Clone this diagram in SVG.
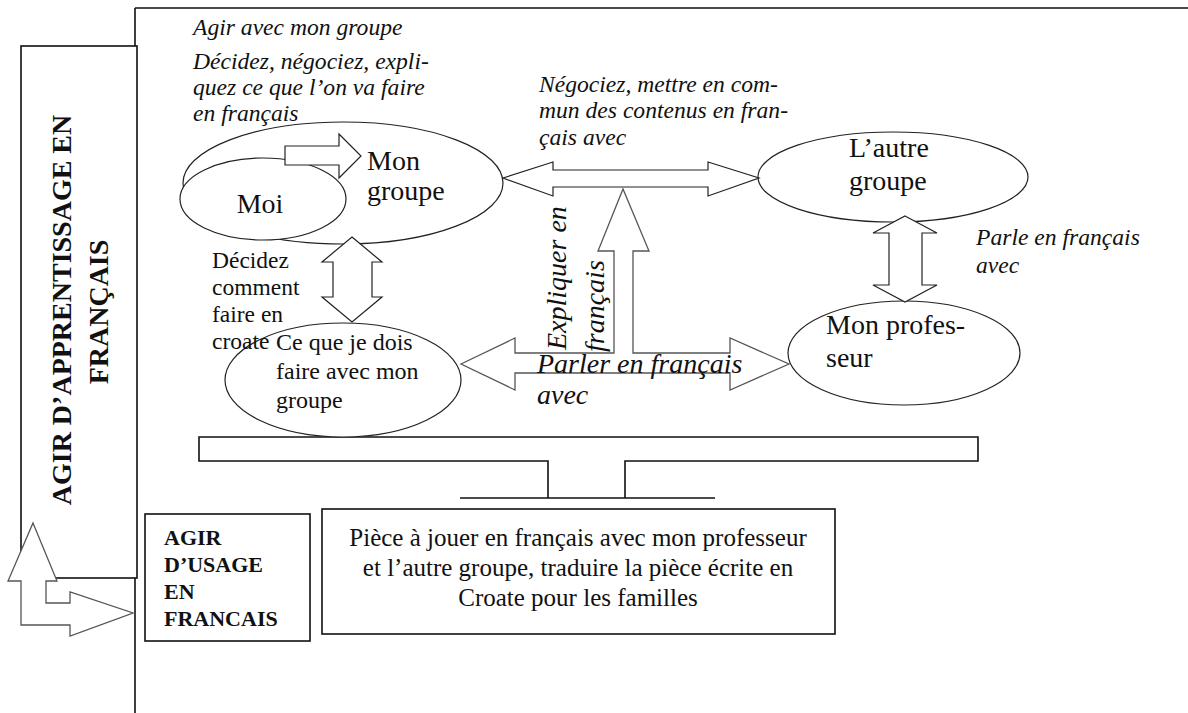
<svg xmlns="http://www.w3.org/2000/svg" width="1188" height="713" viewBox="0 0 1188 713">
<style>
.box{fill:#fff;stroke:#111;stroke-width:1.6}
.ell{fill:#fff;stroke:#222;stroke-width:1.2}
.arr{fill:#fff;stroke:#222;stroke-width:1.2}
.arrg{fill:#fff;stroke:#555;stroke-width:1.3}
.ln{fill:none;stroke:#111;stroke-width:1.6}
.t{font-family:"Liberation Serif","Times New Roman",serif;fill:#111}
.node{font-size:28px}
.reg{font-size:23.5px}
.it{font-style:italic;font-size:23.6px}
.itb{font-style:italic;font-size:28px}
.bold{font-weight:bold}
</style>
<rect width="1188" height="713" fill="#fff"/>
<g id="frame">
<path class="ln" d="M135,8 H1188 M135,8 V713"/>
</g>
<g id="apprentissage">
<rect class="box" x="21" y="46" width="116" height="532"/>
<text class="t bold" font-size="28" text-anchor="middle" transform="translate(71,310) rotate(-90)">AGIR D’APPRENTISSAGE EN</text>
<text class="t bold" font-size="28" text-anchor="middle" transform="translate(108,312) rotate(-90)">FRANÇAIS</text>
</g>
<g id="usage">
<rect class="box" x="145" y="514" width="165" height="127"/>
<text class="t bold" font-size="22"><tspan x="164" y="545">AGIR</tspan><tspan x="164" y="572">D’USAGE</tspan><tspan x="164" y="599">EN</tspan><tspan x="164" y="626">FRANCAIS</tspan></text>
</g>
<g id="piece">
<rect class="box" x="322" y="509" width="513" height="125"/>
<text class="t" font-size="25" text-anchor="middle"><tspan x="578" y="546">Pièce à jouer en français avec mon professeur</tspan><tspan x="578" y="576">et l’autre groupe, traduire la pièce écrite en</tspan><tspan x="578" y="606">Croate pour les familles</tspan></text>
</g>
<g id="bracket">
<polygon points="199,437 978,437 978,461 625,461 625,498 548,498 548,461 199,461" fill="#fff"/>
<path class="ln" d="M548,498 V461 H199 V437 H978 V461 H625 V498 M460,498 H715"/>
</g>
<g id="mon-groupe">
<ellipse class="ell" cx="343" cy="183" rx="160" ry="61"/>
<text class="t node"><tspan x="367" y="170">Mon</tspan><tspan x="367" y="200">groupe</tspan></text>
</g>
<g id="moi">
<ellipse class="ell" cx="263" cy="199" rx="83" ry="41"/>
<text class="t node" x="260" y="213" text-anchor="middle">Moi</text>
</g>
<g id="autre-groupe">
<ellipse class="ell" cx="893" cy="177" rx="135" ry="45"/>
<text class="t node"><tspan x="849" y="157">L’autre</tspan><tspan x="849" y="190">groupe</tspan></text>
</g>
<g id="professeur">
<ellipse class="ell" cx="904" cy="353" rx="116" ry="52"/>
<text class="t node"><tspan x="826" y="334">Mon profes-</tspan><tspan x="826" y="367">seur</tspan></text>
</g>
<g id="ce-que">
<ellipse class="ell" cx="343" cy="380" rx="118" ry="57"/>
<text class="t" font-size="24"><tspan x="276" y="350">Ce que je dois</tspan><tspan x="276" y="379">faire avec mon</tspan><tspan x="276" y="408">groupe</tspan></text>
</g>
<g id="connectors">
<polygon class="arr" points="285,146 339,146 339,134 361,156 339,178 339,165 285,165"/>
<polygon class="arr" points="352,237 382,262 372,262 372,297 382,297 352,322 322,297 333,297 333,262 322,262"/>
<polygon class="arr" points="503,178 553,162 553,170 708,170 708,162 759,178 708,196 708,187 553,187 553,196"/>
<polygon class="arr" points="905,216 937,233 922,233 922,285 937,285 905,302 873,285 889,285 889,233 873,233"/>
<polygon class="arrg" points="461,364 515,338 515,353 614,353 614,251 598,251 623,189 649,251 633,251 633,353 730,353 730,338 789,364 730,390 730,373 515,373 515,390"/>
<polygon class="arrg" points="33,523 57,581 46,581 46,603 70,603 70,592 133,613 70,636 70,625 21,625 21,581 8,581"/>
</g>
<g id="labels">
<text class="t it"><tspan x="193" y="35">Agir avec mon groupe</tspan><tspan x="193" y="69">Décidez, négociez, expli-</tspan><tspan x="193" y="95">quez ce que l’on va faire</tspan><tspan x="193" y="121">en français</tspan></text>
<text class="t reg"><tspan x="212" y="268">Décidez</tspan><tspan x="212" y="295">comment</tspan><tspan x="212" y="322">faire en</tspan><tspan x="212" y="349">croate</tspan></text>
<text class="t it"><tspan x="539" y="92">Négociez, mettre en com-</tspan><tspan x="539" y="118">mun des contenus en fran-</tspan><tspan x="539" y="145">çais avec</tspan></text>
<text class="t it"><tspan x="976" y="245">Parle en français</tspan><tspan x="976" y="273">avec</tspan></text>
<text class="t itb" transform="translate(566,350) rotate(-90)">Expliquer en</text>
<text class="t itb" transform="translate(604,352) rotate(-90)">français</text>
<text class="t itb"><tspan x="537" y="373">Parler en français</tspan><tspan x="537" y="404">avec</tspan></text>
</g>
</svg>
